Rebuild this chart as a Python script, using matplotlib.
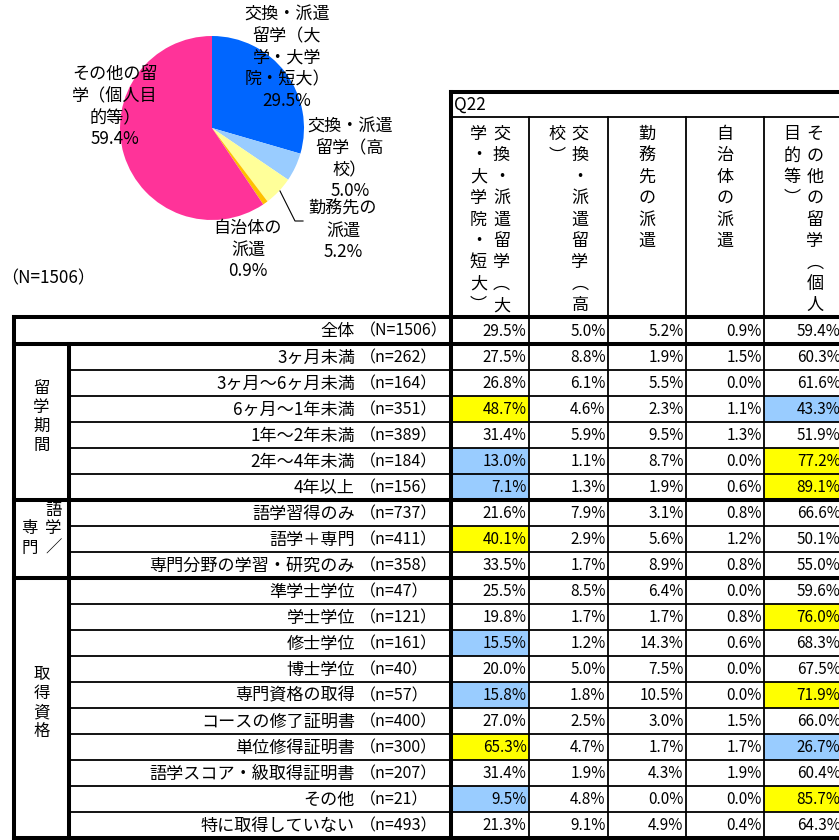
import matplotlib
matplotlib.use("Agg")
import matplotlib.pyplot as plt
from matplotlib.patches import Rectangle

plt.rcParams['font.family'] = ['Noto Sans CJK JP', 'DejaVu Sans']

W, H, DPI = 839, 840, 100

# ---------------- data ----------------
pie_names = ["交換・派遣留学（大学・大学院・短大）", "交換・派遣留学（高校）",
             "勤務先の派遣", "自治体の派遣", "その他の留学（個人目的等）"]
pie_values = [29.5, 5.0, 5.2, 0.9, 59.4]
pie_colors = ["#0066FF", "#99CCFF", "#FFFF99", "#FFC000", "#FF3399"]
pie_label_lines = [["交換・派遣", "留学（大", "学・大学", "院・短大）"],
                   ["交換・派遣", "留学（高", "校）"],
                   ["勤務先の", "派遣"],
                   ["自治体の", "派遣"],
                   ["その他の留", "学（個人目", "的等）"]]
pie_total = "（N=1506）"

question = "Q22"
col_headers = pie_names

group_names = ["留学期間", "語学／専門", "取得資格"]
group_sizes = [6, 3, 10]

row_labels = ["全体", "3ヶ月未満", "3ヶ月～6ヶ月未満", "6ヶ月～1年未満", "1年～2年未満",
              "2年～4年未満", "4年以上", "語学習得のみ", "語学＋専門", "専門分野の学習・研究のみ",
              "準学士学位", "学士学位", "修士学位", "博士学位", "専門資格の取得",
              "コースの修了証明書", "単位修得証明書", "語学スコア・級取得証明書", "その他",
              "特に取得していない"]
row_n = ["（N=1506）", "（n=262）", "（n=164）", "（n=351）", "（n=389）", "（n=184）",
         "（n=156）", "（n=737）", "（n=411）", "（n=358）", "（n=47）", "（n=121）",
         "（n=161）", "（n=40）", "（n=57）", "（n=400）", "（n=300）", "（n=207）",
         "（n=21）", "（n=493）"]

col_univ = [29.5, 27.5, 26.8, 48.7, 31.4, 13.0, 7.1, 21.6, 40.1, 33.5,
            25.5, 19.8, 15.5, 20.0, 15.8, 27.0, 65.3, 31.4, 9.5, 21.3]
col_hs = [5.0, 8.8, 6.1, 4.6, 5.9, 1.1, 1.3, 7.9, 2.9, 1.7,
          8.5, 1.7, 1.2, 5.0, 1.8, 2.5, 4.7, 1.9, 4.8, 9.1]
col_work = [5.2, 1.9, 5.5, 2.3, 9.5, 8.7, 1.9, 3.1, 5.6, 8.9,
            6.4, 1.7, 14.3, 7.5, 10.5, 3.0, 1.7, 4.3, 0.0, 4.9]
col_gov = [0.9, 1.5, 0.0, 1.1, 1.3, 0.0, 0.6, 0.8, 1.2, 0.8,
           0.0, 0.8, 0.6, 0.0, 0.0, 1.5, 1.7, 1.9, 0.0, 0.4]
col_other = [59.4, 60.3, 61.6, 43.3, 51.9, 77.2, 89.1, 66.6, 50.1, 55.0,
             59.6, 76.0, 68.3, 67.5, 71.9, 66.0, 26.7, 60.4, 85.7, 64.3]

# highlight marks: Y = high (yellow), B = low (blue)
hl_univ = ["", "", "", "Y", "", "B", "B", "", "Y", "",
           "", "", "B", "", "B", "", "Y", "", "B", ""]
hl_other = ["", "", "", "B", "", "Y", "Y", "", "", "",
            "", "Y", "", "", "Y", "", "B", "", "Y", ""]
hl_none = [""] * 20

columns = [col_univ, col_hs, col_work, col_gov, col_other]
highlights = [hl_univ, hl_none, hl_none, hl_none, hl_other]
hl_colors = {"Y": "#FFFF00", "B": "#99CCFF"}

# ---------------- layout (pixels) ----------------
X0, XG, XL = 14, 69, 451
col_x = [451, 529, 608, 686, 764, 843]
Y_HEAD_TOP, Y_Q, Y_TOP = 91.5, 116.5, 317
ROW0_H, ROW_H = 27, 26
row_y = [Y_TOP, Y_TOP + ROW0_H] + [Y_TOP + ROW0_H + ROW_H * i for i in range(1, 20)]
THICK, THIN = 2.9, 1.3
FS_LAB, FS_NUM, FS_PIE, FS_HEAD = 12.3, 11.0, 12.3, 12.3

fig = plt.figure(figsize=(W / DPI, H / DPI), dpi=DPI)

# ---------------- pie (drawn first, below the overlay) ----------------
PCX, PCY, PR = 212, 128, 92
pax = fig.add_axes([(PCX - PR) / W, (H - PCY - PR) / H, 2 * PR / W, 2 * PR / H])
pax.pie(pie_values, colors=pie_colors, startangle=90, counterclock=False,
        wedgeprops=dict(linewidth=0))
pax.set_xlim(-1, 1)
pax.set_ylim(-1, 1)

# ---------------- overlay axes in pixel coordinates ----------------
ax = fig.add_axes([0, 0, 1, 1])
ax.set_xlim(0, W)
ax.set_ylim(H, 0)
ax.axis('off')
ax.patch.set_alpha(0)


def line(x1, y1, x2, y2, lw):
    ax.plot([x1, x2], [y1, y2], color='black', lw=lw, solid_capstyle='projecting', zorder=5)


label_pos = [(287, 15), (350, 127), (343, 209), (248, 228), (115, 75)]
LP = 21.5
for (x, y), lines, v in zip(label_pos, pie_label_lines, pie_values):
    for j, t in enumerate(lines + [f"{v:.1f}%"]):
        ax.text(x, y + j * LP, t, ha='center', va='center', fontsize=FS_PIE)
ax.plot([280, 295, 303], [191, 221, 221], color='black', lw=0.8)
ax.text(1, 278, pie_total, ha='left', va='center', fontsize=FS_LAB)

# highlight fills
for ci, hl in enumerate(highlights):
    for ri, h in enumerate(hl):
        if h:
            ax.add_patch(Rectangle((col_x[ci], row_y[ri]), col_x[ci + 1] - col_x[ci],
                                   row_y[ri + 1] - row_y[ri], facecolor=hl_colors[h],
                                   edgecolor='none', zorder=1))

# header box
line(XL, Y_HEAD_TOP, W + 5, Y_HEAD_TOP, THICK)
line(XL, Y_Q, W + 5, Y_Q, THIN)
for cx in col_x[1:-1]:
    line(cx, Y_Q, cx, Y_TOP, THIN)
ax.text(XL + 3, (Y_HEAD_TOP + Y_Q) / 2 + 0.5, question, ha='left', va='center', fontsize=FS_LAB)

# vertical header text
PER_COL = 9
PITCH = 21.4
for ci, name in enumerate(col_headers):
    chunks = [name[i:i + PER_COL] for i in range(0, len(name), PER_COL)]
    cx = (col_x[ci] + col_x[ci + 1]) / 2
    n = len(chunks)
    for k, chunk in enumerate(chunks):
        x = cx + (n - 1) * 11.5 - k * 23
        for j, ch in enumerate(chunk):
            ch = {'（': '︵', '）': '︶'}.get(ch, ch)
            ax.text(x, 134 + j * PITCH, ch, ha='center', va='center', fontsize=FS_HEAD)

# table horizontal lines
group_ends = [1]
acc = 1
for s in group_sizes:
    acc += s
    group_ends.append(acc)
for ri, y in enumerate(row_y):
    if ri == 0 or ri in group_ends:
        line(X0, y, W + 5, y, THICK)
    else:
        line(XG, y, W + 5, y, THIN)

# table vertical lines
line(X0, Y_TOP, X0, row_y[-1], THICK)
line(XG, row_y[1], XG, row_y[-1], THICK)
line(XL, Y_HEAD_TOP, XL, row_y[-1], THICK)
for cx in col_x[1:-1]:
    line(cx, Y_TOP, cx, row_y[-1], THIN)

# row labels and values
for ri in range(20):
    yc = (row_y[ri] + row_y[ri + 1]) / 2 + 0.5
    ax.text(355, yc, row_labels[ri], ha='right', va='center', fontsize=FS_LAB)
    ax.text(360, yc, row_n[ri], ha='left', va='center', fontsize=FS_LAB - 0.8)
    for ci, col in enumerate(columns):
        ax.text(col_x[ci + 1] - 2.5, yc, f"{col[ri]:.1f}%", ha='right', va='center',
                fontsize=FS_NUM, zorder=6)

# group labels (vertical)
for gi, g in enumerate(group_names):
    y_top = row_y[group_ends[gi]]
    y_bot = row_y[group_ends[gi + 1]]
    yc = (y_top + y_bot) / 2
    chunks = [g] if len(g) <= 4 else [g[:3], g[3:]]
    n = len(chunks)
    for k, chunk in enumerate(chunks):
        x = (X0 + XG) / 2 + (n - 1) * 12 - k * 24
        m = len(chunk)
        if n > 1:
            # columns bottom-aligned
            y_last = yc + 9
            ys = [y_last - (m - 1 - j) * 19 for j in range(m)]
        else:
            ys = [yc - 5 + (j - (m - 1) / 2) * 19 for j in range(m)]
        for ch, y in zip(chunk, ys):
            ax.text(x, y, ch, ha='center', va='center', fontsize=FS_LAB - 0.5)

fig.savefig("out.png", dpi=DPI)
